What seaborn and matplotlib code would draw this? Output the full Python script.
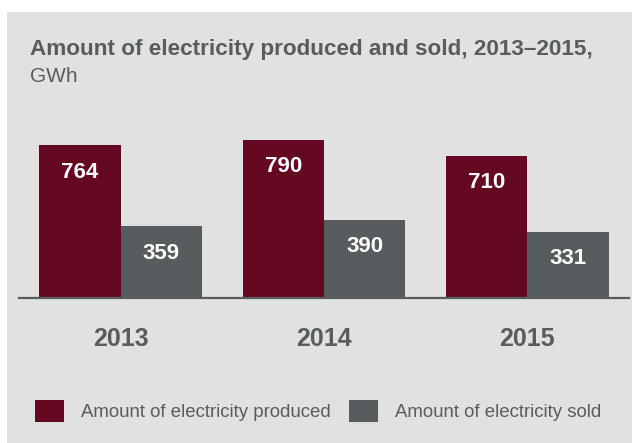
import matplotlib
matplotlib.use("Agg")
import matplotlib.pyplot as plt
from matplotlib.patches import Rectangle
import pandas as pd
import seaborn as sns

years = ["2013", "2014", "2015"]
produced = [764, 790, 710]
sold = [359, 390, 331]
series_names = ["Amount of electricity produced", "Amount of electricity sold"]

title = "Amount of electricity produced and sold, 2013\u20132015,"
unit = "GWh"

BG = "#e1e1e1"
MAROON = "#650822"
SLATE = "#575c5f"
TEXT = "#575c5f"

sns.set_theme(style="white")
plt.rcParams["font.family"] = ["Liberation Sans", "DejaVu Sans"]

df = pd.DataFrame({
    "year": years * 2,
    "value": produced + sold,
    "series": [series_names[0]] * len(years) + [series_names[1]] * len(years),
})

fig = plt.figure(figsize=(6.32, 4.43), dpi=100, facecolor="white")
fig.patches.append(Rectangle((7 / 632, 0), 1, (443 - 12) / 443,
                             transform=fig.transFigure, facecolor=BG,
                             edgecolor="none", zorder=-5))

ax = fig.add_axes([19 / 632, (443 - 298) / 443, 610 / 632, 170 / 443])
ax.patch.set_alpha(0)

sns.barplot(data=df, x="year", y="value", hue="series", order=years,
            hue_order=series_names, palette=[MAROON, SLATE], width=0.8,
            saturation=1, linewidth=0, ax=ax, legend=True)

ax.set_ylim(0, 850)
ax.set_xlim(-0.5, 2.5)
ax.set_xlabel("")
ax.set_ylabel("")
ax.set_yticks([])
for side in ["top", "right", "left"]:
    ax.spines[side].set_visible(False)
ax.spines["bottom"].set_color(SLATE)
ax.spines["bottom"].set_linewidth(1.6)
ax.spines["bottom"].set_zorder(5)
ax.tick_params(axis="x", length=0, pad=21, labelsize=18, labelcolor=TEXT)
for lbl in ax.get_xticklabels():
    lbl.set_fontweight("bold")

for container in ax.containers:
    for bar, val in zip(container, container.datavalues):
        ax.annotate(f"{val:.0f}", (bar.get_x() + bar.get_width() / 2, val),
                    xytext=(0, -27 * 0.72), textcoords="offset points",
                    ha="center", va="center", color="white",
                    fontsize=16, fontweight="bold")

handles, labels = ax.get_legend_handles_labels()
ax.get_legend().remove()
for h in handles:
    h.set_edgecolor("none")
fig.legend(handles, labels, loc="center left", bbox_to_anchor=(35 / 632, 1 - 411 / 443),
           ncol=2, frameon=False, fontsize=13.4, labelcolor=TEXT,
           handlelength=1.55, handleheight=1.4, handletextpad=0.9,
           columnspacing=1.0, borderaxespad=0, borderpad=0)

fig.text(30 / 632, 1 - 50 / 443, title, fontsize=16.2, fontweight="bold",
         color=TEXT, ha="left", va="center")
fig.text(30 / 632, 1 - 77 / 443, unit, fontsize=15, color=TEXT,
         ha="left", va="center")

fig.savefig("out.png", dpi=100, facecolor="white")
